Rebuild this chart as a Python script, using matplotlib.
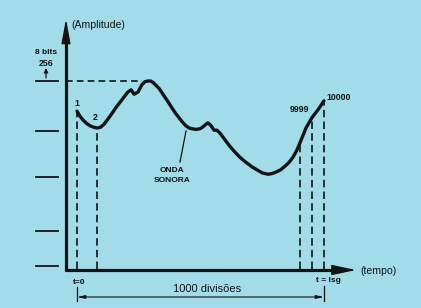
import numpy as np
import matplotlib
matplotlib.use("Agg")
import matplotlib.pyplot as plt
from matplotlib.patches import FancyArrowPatch

plt.rcParams['font.family'] = ['Liberation Sans', 'DejaVu Sans']

# ---- data (time as fraction of 1 s, amplitude in 8-bit levels 0..256) ----
t = [0.0, 0.012, 0.024, 0.040, 0.053, 0.068, 0.081, 0.095, 0.109, 0.125, 0.142,
     0.158, 0.174, 0.190, 0.206, 0.219, 0.231, 0.247,
     0.263, 0.275, 0.287, 0.298, 0.308, 0.320, 0.332, 0.344, 0.356, 0.370, 0.385,
     0.399, 0.413, 0.427, 0.441, 0.454, 0.466, 0.482, 0.498, 0.508, 0.518,
     0.530, 0.543, 0.555, 0.567, 0.579, 0.599, 0.619, 0.640, 0.660, 0.685, 0.709,
     0.729, 0.749, 0.773, 0.790, 0.806, 0.824, 0.842, 0.858, 0.874, 0.889, 0.903,
     0.915, 0.927, 0.951, 0.976, 1.0]
amp = [215, 208, 203, 198, 195, 193, 192, 193, 197, 204, 212,
       220, 227, 234, 241, 244, 238, 241,
       251, 255, 256, 256, 254, 250, 246, 240, 234, 227, 219,
       212, 206, 200, 195, 192, 191, 190, 191, 193, 196,
       199, 195, 189, 189, 185, 176, 167, 159, 152, 145, 139,
       135, 131, 129, 130, 132, 135, 140, 145, 152, 161, 172,
       182, 192, 206, 217, 229]
level_marks = [256, 188, 125, 52, 4]
sample_t = [0.0, 0.081, 0.903, 0.951, 1.0]
sample_labels = ["1", "2", "", "9999", "10000"]
max_level = 256

BG = '#a2dce8'
INK = '#141414'

W, H = 421, 308
fig = plt.figure(figsize=(W / 100, H / 100), dpi=100, facecolor=BG)
ax = fig.add_axes([0, 0, 1, 1])
ax.set_facecolor(BG)
ax.axis('off')

# pixel mapping for layout: t=0 -> x=77, t=1 -> x=324 ; amp 0 -> y=269, 256 -> y=81
sx = 247.0
sy = 188.0 / 256.0
x0p, y0p = 77.0, 269.0
ax.set_xlim(-x0p / sx, (W - x0p) / sx)
ax.set_ylim(-(H - y0p) / sy, y0p / sy)

def tx(px):
    return (px - x0p) / sx

def ay(py):
    return (y0p - py) / sy

# ---- axes with arrows ----
axis_t = tx(66)
ax.plot([axis_t, axis_t], [ay(271), ay(40)], color=INK, lw=2.3, solid_capstyle='butt')
ax.add_patch(FancyArrowPatch((axis_t, ay(45)), (axis_t, ay(19)),
                             arrowstyle='-|>,head_length=15,head_width=2.8',
                             mutation_scale=1, color=INK, lw=1, shrinkA=0, shrinkB=0))
ax.plot([tx(65), tx(338)], [ay(270), ay(270)], color=INK, lw=2.3, solid_capstyle='butt')
ax.add_patch(FancyArrowPatch((tx(330), ay(270)), (tx(356), ay(270)),
                             arrowstyle='-|>,head_length=15,head_width=3.2',
                             mutation_scale=1, color=INK, lw=1, shrinkA=0, shrinkB=0))

# ---- level ticks on the left ----
for lv in level_marks:
    ax.plot([tx(36), tx(58)], [lv, lv], color=INK, lw=1.3)

# dashed max-level line
ax.plot([axis_t, 0.265], [max_level, max_level], color=INK, lw=1.2,
        linestyle=(0, (4, 2.5)))

# ---- sample dashed verticals ----
for st in sample_t:
    v = np.interp(st, t, amp)
    ax.plot([st, st], [0, v], color=INK, lw=1.2, linestyle=(0, (4.5, 2.5)))

# ---- the wave ----
ax.plot(t, amp, color=INK, lw=2.4, solid_joinstyle='round', solid_capstyle='round')

# ---- labels ----
ax.text(tx(71), ay(25), '(Amplitude)', fontsize=7.6, color=INK, ha='left', va='center')
ax.text(tx(46), ay(52), '8 bits', fontsize=6, fontweight='bold', color=INK,
        ha='center', va='center')
ax.text(tx(46), ay(63), '256', fontsize=6.3, fontweight='bold', color=INK,
        ha='center', va='center')
ax.add_patch(FancyArrowPatch((tx(46), ay(78)), (tx(46), ay(68)),
                             arrowstyle='-|>,head_length=2.5,head_width=1.2',
                             mutation_scale=1, color=INK, lw=0.9, shrinkA=0, shrinkB=0))

label_pos = {"1": (77, 104), "2": (95, 118), "9999": (299, 109), "10000": (339, 97)}
for st, lab in zip(sample_t, sample_labels):
    if lab:
        px, py = label_pos[lab]
        ax.text(tx(px), ay(py), lab, fontsize=6.3, fontweight='bold', color=INK,
                ha='center', va='center')

ax.text(tx(172), ay(171), 'ONDA', fontsize=6, fontweight='bold', color=INK,
        ha='center', va='center')
ax.text(tx(172), ay(181), 'SONORA', fontsize=6, fontweight='bold', color=INK,
        ha='center', va='center')
ax.plot([tx(186), tx(180)], [ay(131), ay(162)], color=INK, lw=0.9)

ax.text(tx(360), ay(271), '(tempo)', fontsize=7.6, color=INK, ha='left', va='center')
ax.text(tx(79), ay(283), 't=0', fontsize=6, fontweight='bold', color=INK,
        ha='center', va='center')
ax.text(tx(328), ay(281), 't = lsg', fontsize=6, fontweight='bold', color=INK,
        ha='center', va='center')
ax.text(tx(207), ay(289), '1000 divisões', fontsize=8, color=INK,
        ha='center', va='center')

# dimension line
ax.plot([0, 0], [ay(287), ay(301)], color=INK, lw=0.9)
ax.plot([1, 1], [ay(286), ay(301)], color=INK, lw=0.9)
ax.add_patch(FancyArrowPatch((0, ay(297)), (1, ay(297)),
                             arrowstyle='<|-|>,head_length=4.5,head_width=1.0',
                             mutation_scale=1, color=INK, lw=0.8, shrinkA=0, shrinkB=0))

fig.savefig('out.png', dpi=100, facecolor=BG)
